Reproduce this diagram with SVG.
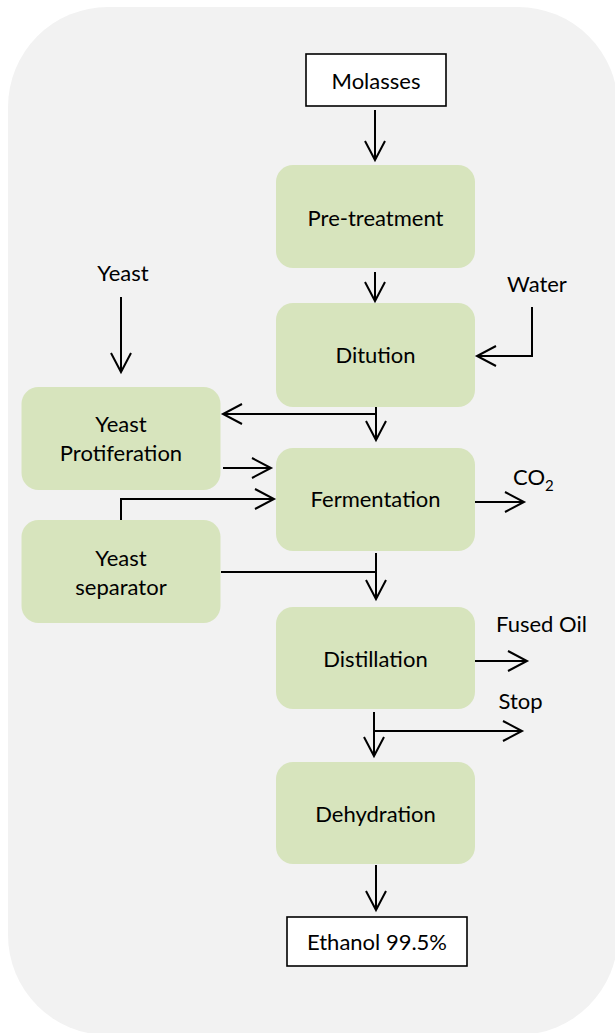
<svg xmlns="http://www.w3.org/2000/svg" width="615" height="1033" viewBox="0 0 615 1033">
  <defs>
    <style>
      .bg { fill: #F2F2F2; }
      .step { fill: #D7E4BD; }
      .term { fill: #FFFFFF; stroke: #000; stroke-width: 1.6; }
      .lbl { font-family: Lato, "Liberation Sans", sans-serif; font-size: 22px; fill: #000; text-anchor: middle; }
      .cn { fill: none; stroke: #000; stroke-width: 2; }
    </style>
    <marker id="ah" viewBox="-22 -12 24 24" refX="0" refY="0" markerWidth="24" markerHeight="24" markerUnits="userSpaceOnUse" orient="auto" overflow="visible">
      <path d="M-19,-10 L0,0 L-19,10" fill="none" stroke="#000" stroke-width="2"/>
    </marker>
  </defs>

  <rect class="bg" x="8" y="7" width="610" height="1028" rx="100" ry="100"/>

  <g id="molasses">
    <rect class="term" x="306" y="54" width="140" height="52"/>
    <text class="lbl" x="376" y="89">Molasses</text>
  </g>
  <g id="pretreatment">
    <rect class="step" x="276" y="165" width="199" height="103" rx="17"/>
    <text class="lbl" x="375.5" y="226">Pre-treatment</text>
  </g>
  <g id="dilution">
    <rect class="step" x="276" y="303" width="199" height="104" rx="17"/>
    <text class="lbl" x="375.5" y="363">Ditution</text>
  </g>
  <g id="yeast-proliferation">
    <rect class="step" x="21.5" y="387" width="199" height="103" rx="17"/>
    <text class="lbl" x="121" y="432">Yeast</text>
    <text class="lbl" x="121" y="461">Protiferation</text>
  </g>
  <g id="fermentation">
    <rect class="step" x="276" y="448" width="199" height="103" rx="17"/>
    <text class="lbl" x="375.5" y="507">Fermentation</text>
  </g>
  <g id="yeast-separator">
    <rect class="step" x="21.5" y="520" width="199" height="103" rx="17"/>
    <text class="lbl" x="121" y="566">Yeast</text>
    <text class="lbl" x="121" y="595">separator</text>
  </g>
  <g id="distillation">
    <rect class="step" x="276" y="607" width="199" height="102" rx="17"/>
    <text class="lbl" x="375.5" y="667">Distillation</text>
  </g>
  <g id="dehydration">
    <rect class="step" x="276" y="762" width="199" height="102" rx="17"/>
    <text class="lbl" x="375.5" y="822">Dehydration</text>
  </g>
  <g id="ethanol">
    <rect class="term" x="287" y="917" width="180" height="49"/>
    <text class="lbl" x="377" y="950">Ethanol 99.5%</text>
  </g>

  <g id="labels">
    <text class="lbl" x="123" y="281">Yeast</text>
    <text class="lbl" x="537" y="292">Water</text>
    <text class="lbl" x="513" y="485" style="text-anchor:start">CO<tspan font-size="15" dy="6">2</tspan></text>
    <text class="lbl" x="541.5" y="632">Fused Oil</text>
    <text class="lbl" x="520.5" y="709">Stop</text>
  </g>

  <g id="connectors">
    <path class="cn" d="M375,110 V160" marker-end="url(#ah)"/>
    <path class="cn" d="M375,272 V301" marker-end="url(#ah)"/>
    <path class="cn" d="M532,307 V356 H477" marker-end="url(#ah)"/>
    <path class="cn" d="M121,297 V372" marker-end="url(#ah)"/>
    <path class="cn" d="M376,407 V440" marker-end="url(#ah)"/>
    <path class="cn" d="M376,414 H223" marker-end="url(#ah)"/>
    <path class="cn" d="M223,468 H271" marker-end="url(#ah)"/>
    <path class="cn" d="M121,520 V499 H274" marker-end="url(#ah)"/>
    <path class="cn" d="M475,502 H524" marker-end="url(#ah)"/>
    <path class="cn" d="M221,572 H376"/>
    <path class="cn" d="M376,553 V599" marker-end="url(#ah)"/>
    <path class="cn" d="M475,661 H527" marker-end="url(#ah)"/>
    <path class="cn" d="M374,712 V756" marker-end="url(#ah)"/>
    <path class="cn" d="M374,731 H522" marker-end="url(#ah)"/>
    <path class="cn" d="M376,865 V910" marker-end="url(#ah)"/>
  </g>
</svg>
